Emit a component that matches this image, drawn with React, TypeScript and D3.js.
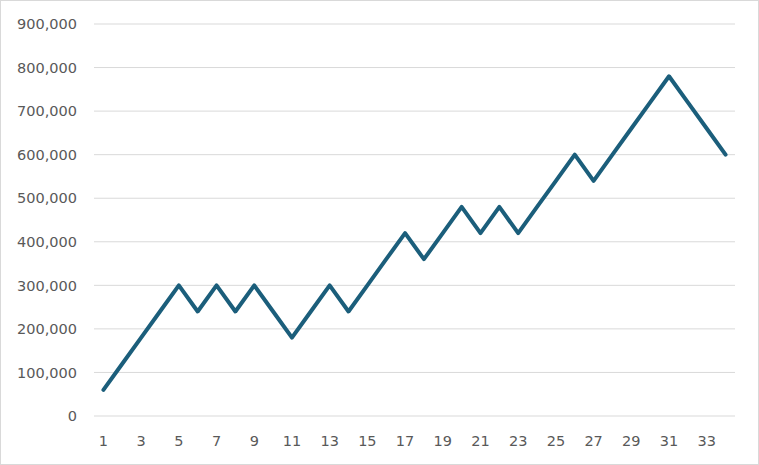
import React from "react";
import * as d3 from "d3";

const categories: number[] = Array.from({ length: 34 }, (_, i) => i + 1);
const values: number[] = [
  60000, 120000, 180000, 240000, 300000, 240000, 300000, 240000, 300000, 240000,
  180000, 240000, 300000, 240000, 300000, 360000, 420000, 360000, 420000, 480000,
  420000, 480000, 420000, 480000, 540000, 600000, 540000, 600000, 660000, 720000,
  780000, 720000, 660000, 600000,
];
const yTicks: number[] = [0, 100000, 200000, 300000, 400000, 500000, 600000, 700000, 800000, 900000];

export default function App() {
  const W = 759, H = 465;
  const left = 94, right = 735, top = 24, bottom = 416;
  const x = d3.scaleBand<number>().domain(categories).range([left, right]);
  const y = d3.scaleLinear().domain([0, 900000]).range([bottom, top]);
  const fmt = d3.format(",");
  const line = d3
    .line<number>()
    .x((_, i) => (x(categories[i]) as number) + x.bandwidth() / 2)
    .y((d) => y(d));
  const font = "'DejaVu Sans', sans-serif";
  return (
    <svg
      width={W}
      height={H}
      style={{ position: "absolute", left: 0, top: 0, background: "#fff" }}
    >
      <rect x={0.5} y={0.5} width={W - 1} height={H - 1} fill="#fff" stroke="#d9d9d9" />
      {yTicks.map((t) => (
        <g key={t}>
          <line x1={left} x2={right} y1={y(t)} y2={y(t)} stroke="#d9d9d9" strokeWidth={1} />
          <text
            x={left - 17}
            y={y(t)}
            dy="0.36em"
            textAnchor="end"
            fontFamily={font}
            fontSize={14.5}
            fill="#595959"
          >
            {fmt(t)}
          </text>
        </g>
      ))}
      {categories
        .filter((c) => c % 2 === 1)
        .map((c) => (
          <text
            key={c}
            x={(x(c) as number) + x.bandwidth() / 2}
            y={bottom + 30}
            textAnchor="middle"
            fontFamily={font}
            fontSize={14.5}
            fill="#595959"
          >
            {c}
          </text>
        ))}
      <path
        d={line(values) || ""}
        fill="none"
        stroke="#1b5e7b"
        strokeWidth={4}
        strokeLinejoin="round"
        strokeLinecap="round"
      />
    </svg>
  );
}
